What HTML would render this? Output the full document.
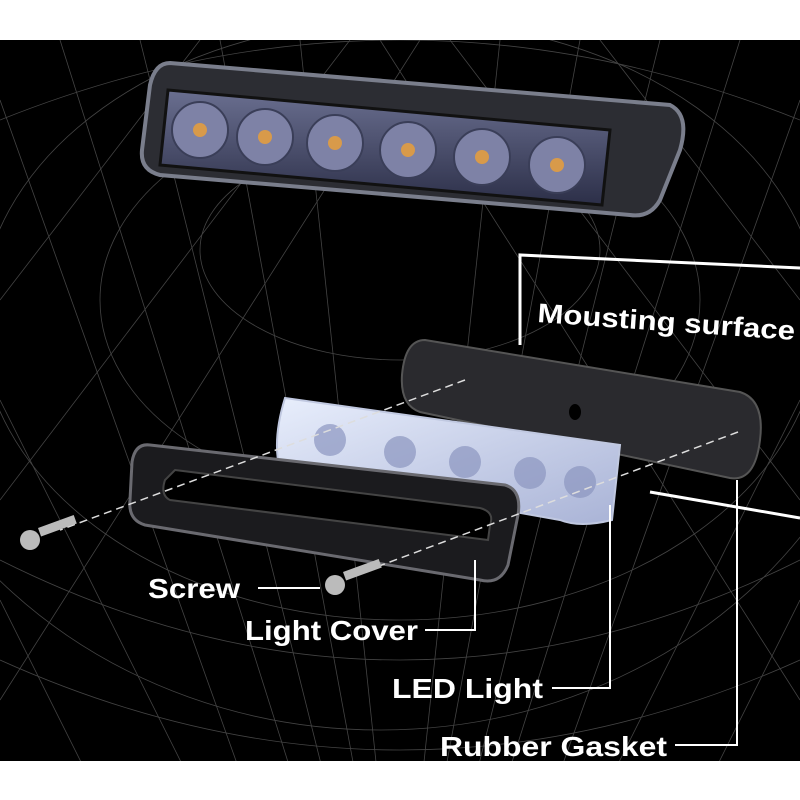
<!DOCTYPE html>
<html><head><meta charset="utf-8"><style>
html,body{margin:0;padding:0;background:#fff;}
svg{display:block}
text{font-family:"Liberation Sans",sans-serif;fill:#fff;font-weight:bold;}
</style></head><body>
<svg width="800" height="800" viewBox="0 0 800 800" xmlns="http://www.w3.org/2000/svg">
<defs>
<linearGradient id="lens" x1="0" y1="0" x2="0" y2="1"><stop offset="0" stop-color="#6a6f90"/><stop offset="1" stop-color="#2c2f48"/></linearGradient>
<linearGradient id="led" x1="0" y1="0" x2="1" y2="1"><stop offset="0" stop-color="#e8eefc"/><stop offset="1" stop-color="#a9b3d6"/></linearGradient>
<clipPath id="bg"><rect x="0" y="40" width="800" height="721"/></clipPath>
</defs>
<rect x="0" y="40" width="800" height="721" fill="#000"/>
<g clip-path="url(#bg)" stroke="#555" stroke-width="0.8" fill="none" opacity="0.8">
<ellipse cx="400" cy="300" rx="300" ry="200"/>
<ellipse cx="400" cy="320" rx="420" ry="300"/>
<ellipse cx="380" cy="260" rx="520" ry="470"/>
<ellipse cx="400" cy="250" rx="200" ry="110"/>
<path d="M0 120 Q400 -40 800 120"/><path d="M0 560 Q400 760 800 560"/><path d="M0 660 Q400 840 800 660"/>
<path d="M0 100 L250 800"/><path d="M60 40 L300 800"/><path d="M140 40 L330 800"/><path d="M220 40 L360 800"/><path d="M300 40 L380 800"/>
<path d="M800 100 L550 800"/><path d="M740 40 L500 800"/><path d="M660 40 L470 800"/><path d="M580 40 L440 800"/><path d="M500 40 L420 800"/>
<path d="M0 300 L200 40"/><path d="M0 500 L350 40"/><path d="M0 700 L420 40"/><path d="M800 300 L600 40"/><path d="M800 500 L450 40"/><path d="M800 700 L380 40"/>
<path d="M100 800 L0 600"/><path d="M200 800 L0 400"/><path d="M700 800 L800 600"/><path d="M600 800 L800 400"/>
</g>
<!-- top light bar -->
<path d="M170 63 L670 105 Q690 115 680 150 L660 200 Q650 218 630 215 L160 175 Q140 170 142 150 L150 85 Q155 63 170 63 Z" fill="#2c2d33" stroke="#7a7e8c" stroke-width="4"/>
<path d="M168 90 L610 130 L602 205 L160 165 Z" fill="url(#lens)" stroke="#111" stroke-width="3"/>
<g fill="#7e82a6" stroke="#3a3e58" stroke-width="2">
<circle cx="200" cy="130" r="28"/><circle cx="265" cy="137" r="28"/><circle cx="335" cy="143" r="28"/><circle cx="408" cy="150" r="28"/><circle cx="482" cy="157" r="28"/><circle cx="557" cy="165" r="28"/>
</g>
<g fill="#d89a4a"><circle cx="200" cy="130" r="7"/><circle cx="265" cy="137" r="7"/><circle cx="335" cy="143" r="7"/><circle cx="408" cy="150" r="7"/><circle cx="482" cy="157" r="7"/><circle cx="557" cy="165" r="7"/></g>
<!-- mounting surface lines -->
<g stroke="#fff" stroke-width="3" fill="none">
<path d="M520 345 L520 255 L800 268"/>
<path d="M650 492 L800 518"/>
</g>
<text x="537" y="322" font-size="27" textLength="258" lengthAdjust="spacingAndGlyphs" transform="rotate(4 537 322)">Mousting surface</text>
<!-- gasket -->
<path d="M425 340 L740 392 Q765 400 760 440 Q755 482 730 478 L420 412 Q400 405 402 375 Q405 340 425 340 Z" fill="#2a2a2e" stroke="#555" stroke-width="2"/>
<ellipse cx="575" cy="412" rx="6" ry="8" fill="#000"/>
<!-- LED light -->
<path d="M285 398 L620 445 L612 520 Q580 528 560 520 L280 470 Q272 440 285 398 Z" fill="url(#led)" stroke="#c0c8e0" stroke-width="2"/>
<g fill="#8c96c0" opacity="0.7"><circle cx="330" cy="440" r="16"/><circle cx="400" cy="452" r="16"/><circle cx="465" cy="462" r="16"/><circle cx="530" cy="473" r="16"/><circle cx="580" cy="482" r="16"/></g>
<!-- light cover -->
<path d="M150 445 L505 485 Q522 490 518 515 L508 565 Q500 585 480 580 L145 525 Q128 520 130 500 L132 462 Q135 443 150 445 Z" fill="#1b1b1e" stroke="#6a6a70" stroke-width="3"/>
<path d="M175 470 L480 508 Q495 512 490 525 L488 540 L170 500 Q160 495 165 480 Z" fill="#000" stroke="#444" stroke-width="2"/>
<!-- dashed lines -->
<g stroke="#ddd" stroke-width="1.5" stroke-dasharray="8 5" fill="none">
<path d="M465 380 L60 530"/><path d="M738 432 L355 575"/>
</g>
<!-- screws -->
<g fill="#bbb"><circle cx="30" cy="540" r="10"/><rect x="38" y="528" width="38" height="9" transform="rotate(-20 38 528)"/>
<circle cx="335" cy="585" r="10"/><rect x="343" y="572" width="38" height="9" transform="rotate(-20 343 572)"/></g>
<!-- labels -->
<g stroke="#fff" stroke-width="2" fill="none">
<path d="M258 588 L320 588"/>
<path d="M425 630 L475 630 L475 560"/>
<path d="M552 688 L610 688 L610 505"/>
<path d="M675 745 L737 745 L737 480"/>
</g>
<text x="148" y="598" font-size="28" textLength="92" lengthAdjust="spacingAndGlyphs">Screw</text>
<text x="245" y="640" font-size="28" textLength="173" lengthAdjust="spacingAndGlyphs">Light Cover</text>
<text x="392" y="698" font-size="28" textLength="151" lengthAdjust="spacingAndGlyphs">LED Light</text>
<text x="440" y="756" font-size="28" textLength="227" lengthAdjust="spacingAndGlyphs">Rubber Gasket</text>
</svg>
</body></html>
